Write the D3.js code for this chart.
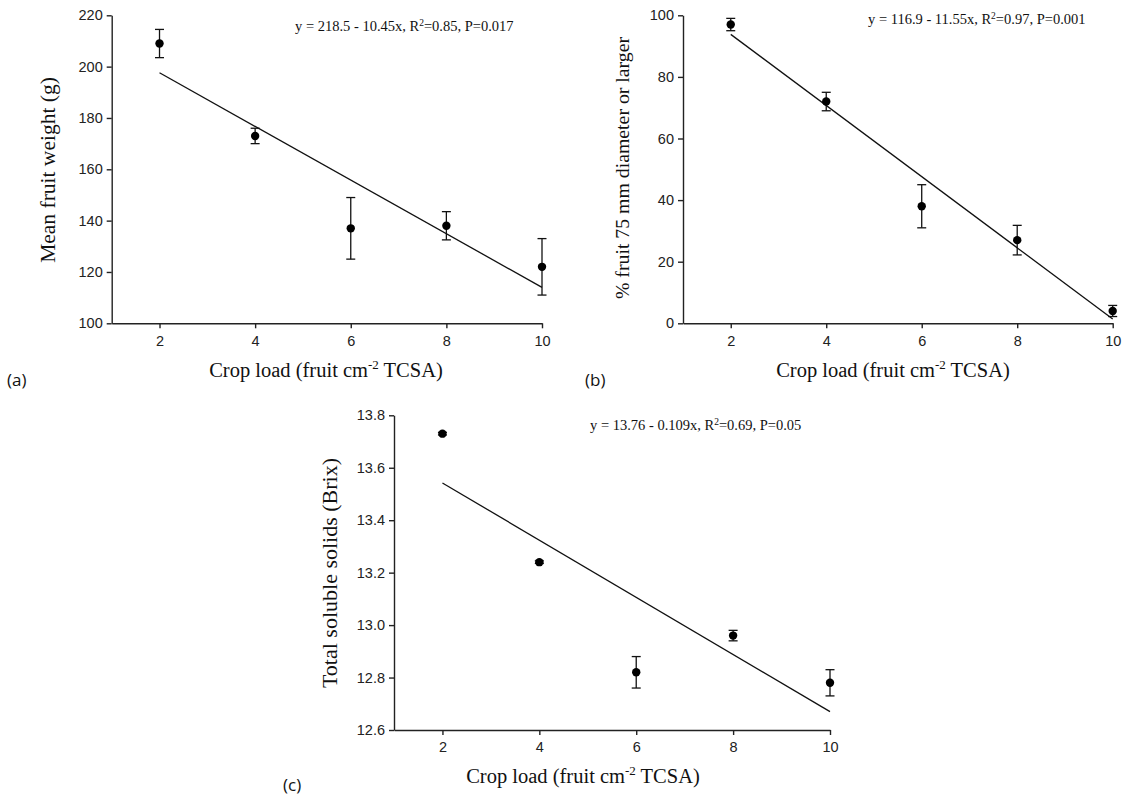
<!DOCTYPE html>
<html>
<head>
<meta charset="utf-8">
<script src="https://cdn.jsdelivr.net/npm/d3@7"></script>
<style>
  body { margin: 0; background: #fff; }
  svg { display: block; }
  .tick text { font-family: "Liberation Sans", Arial, sans-serif; font-size: 14.5px; fill: #222; }
  .serif { font-family: "Liberation Serif", "Times New Roman", serif; fill: #111; }
</style>
</head>
<body>
<svg id="chart" width="1133" height="797"></svg>
<script>
// crop load levels shared by all panels
var cropLoad = [2, 4, 6, 8, 10];
var xTicks = [2, 4, 6, 8, 10];

// (a) mean fruit weight
var weightMean = [209, 173, 137, 138, 122];
var weightErr = [5.5, 3, 12, 5.5, 11];
var weightFit = [218.5, -10.45];
var weightTicks = [100, 120, 140, 160, 180, 200, 220];

// (b) % fruit >= 75 mm
var sizeMean = [97, 72, 38, 27, 4];
var sizeErr = [2, 3, 7, 4.8, 1.8];
var sizeFit = [116.9, -11.55];
var sizeTicks = [0, 20, 40, 60, 80, 100];

// (c) total soluble solids
var brixMean = [13.73, 13.24, 12.82, 12.96, 12.78];
var brixErr = [0.005, 0.005, 0.06, 0.02, 0.05];
var brixFit = [13.76, -0.109];
var brixTicks = [12.6, 12.8, 13.0, 13.2, 13.4, 13.6, 13.8];

var svg = d3.select("#chart");

function panel(o) {
  var x = d3.scaleLinear().domain([1, 10]).range([o.left, o.right]);
  var y = d3.scaleLinear().domain(o.ydom).range([o.bottom, o.top]);
  var g = svg.append("g");

  g.append("g")
    .attr("transform", "translate(0," + o.bottom + ")")
    .call(d3.axisBottom(x).tickValues(xTicks).tickSize(5).tickSizeOuter(0).tickPadding(7))
    .call(function (a) { a.selectAll("path,line").attr("stroke", "#222").attr("stroke-width", 1.4); });

  g.append("g")
    .attr("transform", "translate(" + o.left + ",0)")
    .call(d3.axisLeft(y).tickValues(o.yticks).tickSize(5).tickSizeOuter(0).tickPadding(4)
      .tickFormat(o.fmt))
    .call(function (a) { a.selectAll("path,line").attr("stroke", "#222").attr("stroke-width", 1.4); });

  // regression line
  g.append("line")
    .attr("x1", x(2)).attr("y1", y(o.fit[0] + o.fit[1] * 2))
    .attr("x2", x(10)).attr("y2", y(o.fit[0] + o.fit[1] * 10))
    .attr("stroke", "#111").attr("stroke-width", 1.3);

  var pts = cropLoad.map(function (c, i) { return { x: c, m: o.mean[i], e: o.err[i] }; });

  var eb = g.selectAll(".eb").data(pts).enter().append("g");
  eb.append("line")
    .attr("x1", function (d) { return x(d.x); }).attr("x2", function (d) { return x(d.x); })
    .attr("y1", function (d) { return y(d.m + d.e); }).attr("y2", function (d) { return y(d.m - d.e); })
    .attr("stroke", "#111").attr("stroke-width", 1.3);
  [1, -1].forEach(function (s) {
    eb.append("line")
      .attr("x1", function (d) { return x(d.x) - 4.5; }).attr("x2", function (d) { return x(d.x) + 4.5; })
      .attr("y1", function (d) { return y(d.m + s * d.e); }).attr("y2", function (d) { return y(d.m + s * d.e); })
      .attr("stroke", "#111").attr("stroke-width", 1.3);
  });
  eb.append("circle")
    .attr("cx", function (d) { return x(d.x); })
    .attr("cy", function (d) { return y(d.m); })
    .attr("r", 4.2).attr("fill", "#000");

  // equation
  var eq = g.append("text").attr("class", "serif")
    .attr("x", o.eqx).attr("y", o.eqy).style("font-size", "14.5px");
  eq.append("tspan").text(o.eq1);
  eq.append("tspan").attr("dy", -5).style("font-size", "9.5px").text("2");
  eq.append("tspan").attr("dy", 5).text(o.eq2);

  // y title
  g.append("text").attr("class", "serif")
    .attr("transform", "translate(" + o.ytx + "," + o.yty + ") rotate(-90)")
    .attr("text-anchor", "middle").style("font-size", o.ytsize + "px")
    .text(o.ytitle);

  // x title
  var xt = g.append("text").attr("class", "serif")
    .attr("x", o.xtx).attr("y", o.xty).attr("text-anchor", "middle")
    .style("font-size", "20.5px");
  xt.append("tspan").text("Crop load (fruit cm");
  xt.append("tspan").attr("dy", -8).style("font-size", "13px").text("-2");
  xt.append("tspan").attr("dy", 8).text(" TCSA)");

  // panel letter
  g.append("text")
    .attr("x", o.lx).attr("y", o.ly)
    .style("font-family", "'Open Sans', 'Noto Sans', sans-serif").style("font-size", "17px")
    .attr("fill", "#111").text(o.letter);
}

panel({
  left: 111.7, right: 542, top: 15.3, bottom: 323.3, ydom: [100, 220], yticks: weightTicks,
  fmt: d3.format("d"), mean: weightMean, err: weightErr, fit: weightFit,
  eq1: "y = 218.5 - 10.45x, R", eq2: "=0.85, P=0.017", eqx: 295, eqy: 31,
  ytitle: "Mean fruit weight (g)", ytx: 55, yty: 170, ytsize: 21.5,
  xtx: 326, xty: 377, letter: "(a)", lx: 7, ly: 386
});

panel({
  left: 683, right: 1112.7, top: 15.3, bottom: 323.3, ydom: [0, 100], yticks: sizeTicks,
  fmt: d3.format("d"), mean: sizeMean, err: sizeErr, fit: sizeFit,
  eq1: "y = 116.9 - 11.55x, R", eq2: "=0.97, P=0.001", eqx: 868, eqy: 24,
  ytitle: "% fruit 75 mm diameter or larger", ytx: 629, yty: 168, ytsize: 19.8,
  xtx: 893, xty: 377, letter: "(b)", lx: 585, ly: 386
});

panel({
  left: 394, right: 830, top: 415.3, bottom: 730, ydom: [12.6, 13.8], yticks: brixTicks,
  fmt: d3.format(".1f"), mean: brixMean, err: brixErr, fit: brixFit,
  eq1: "y = 13.76 - 0.109x, R", eq2: "=0.69, P=0.05", eqx: 590, eqy: 430,
  ytitle: "Total soluble solids (Brix)", ytx: 337, yty: 573, ytsize: 22,
  xtx: 583, xty: 783, letter: "(c)", lx: 283, ly: 791
});
</script>
</body>
</html>
